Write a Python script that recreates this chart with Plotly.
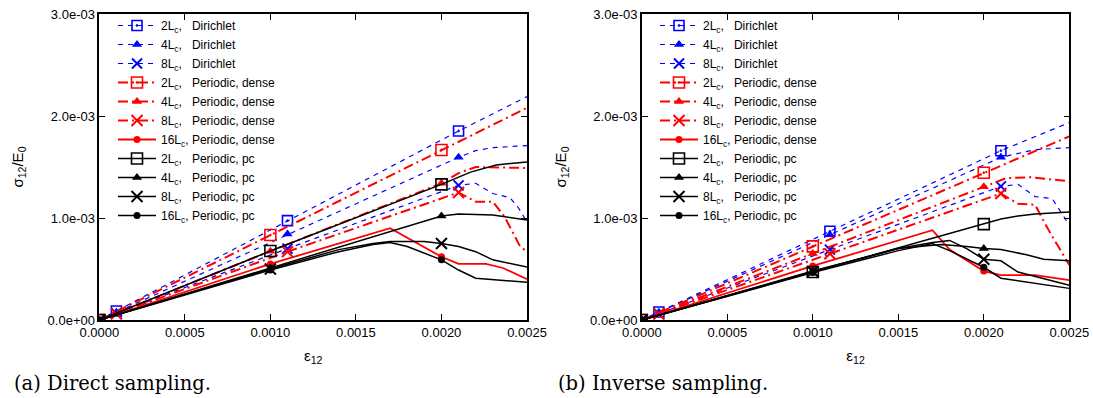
import numpy as np
import plotly.graph_objects as go

# ---------------- tick labels ----------------
X_TICKS = [0.0, 0.0005, 0.0010, 0.0015, 0.0020, 0.0025]
X_TICK_TEXT = ["0.0000", "0.0005", "0.0010", "0.0015", "0.0020", "0.0025"]
Y_TICKS = [0, 1, 2, 3]                      # sigma12/E0 in units of 1e-3
Y_TICK_TEXT = ["0.0e+00", "1.0e-03", "2.0e-03", "3.0e-03"]

MARK_A = [0.0, 0.0010, 0.0020]              # marker positions (set A)
MARK_B = [0.0001, 0.0011, 0.0021]           # marker positions (set B)

LABELS = [
    "2L<sub>c</sub>,\u00a0\u00a0\u00a0Dirichlet",
    "4L<sub>c</sub>,\u00a0\u00a0\u00a0Dirichlet",
    "8L<sub>c</sub>,\u00a0\u00a0\u00a0Dirichlet",
    "2L<sub>c</sub>,\u00a0\u00a0\u00a0Periodic, dense",
    "4L<sub>c</sub>,\u00a0\u00a0\u00a0Periodic, dense",
    "8L<sub>c</sub>,\u00a0\u00a0\u00a0Periodic, dense",
    "16L<sub>c</sub>, Periodic, dense",
    "2L<sub>c</sub>,\u00a0\u00a0\u00a0Periodic, pc",
    "4L<sub>c</sub>,\u00a0\u00a0\u00a0Periodic, pc",
    "8L<sub>c</sub>,\u00a0\u00a0\u00a0Periodic, pc",
    "16L<sub>c</sub>, Periodic, pc",
]

# ---------------- (a) Direct sampling ----------------
a_D2_x = [0, 0.0001, 0.0011, 0.0021, 0.0025]
a_D2_y = [0, 0.088, 0.974, 1.853, 2.19]
a_D4_x = [0, 0.0001, 0.0011, 0.0021, 0.0022, 0.0023, 0.0025]
a_D4_y = [0, 0.076, 0.843, 1.595, 1.66, 1.69, 1.71]
a_D8_x = [0, 0.0001, 0.0011, 0.0021, 0.0022, 0.0023, 0.0024, 0.00245, 0.0025]
a_D8_y = [0, 0.063, 0.70, 1.32, 1.34, 1.24, 1.20, 1.10, 0.96]
a_P2_x = [0, 0.0010, 0.0020, 0.0025]
a_P2_y = [0, 0.833, 1.667, 2.08]
a_P4_x = [0, 0.0010, 0.0020, 0.0021, 0.0022, 0.0025]
a_P4_y = [0, 0.675, 1.34, 1.44, 1.50, 1.49]
a_P8_x = [0, 0.0001, 0.0011, 0.0021, 0.0022, 0.0023, 0.00237, 0.00246, 0.0025]
a_P8_y = [0, 0.06, 0.67, 1.25, 1.16, 1.16, 1.01, 0.72, 0.67]
a_P16_x = [0, 0.0010, 0.0017, 0.0020, 0.0021, 0.00226, 0.00236, 0.0025]
a_P16_y = [0, 0.55, 0.90, 0.62, 0.55, 0.55, 0.51, 0.40]
a_C2_x = [0, 0.0010, 0.0020, 0.00217, 0.00232, 0.0025]
a_C2_y = [0, 0.676, 1.33, 1.45, 1.52, 1.55]
a_C4_x = [0, 0.0010, 0.0020, 0.0021, 0.0023, 0.0025]
a_C4_y = [0, 0.51, 1.02, 1.04, 1.03, 0.98]
a_C8_x = [0, 0.0010, 0.0014, 0.0016, 0.0017, 0.0019, 0.0020, 0.0021, 0.0022, 0.0023, 0.0025]
a_C8_y = [0, 0.50, 0.69, 0.75, 0.77, 0.77, 0.75, 0.72, 0.67, 0.59, 0.52]
a_C16_x = [0, 0.0010, 0.0014, 0.0016, 0.0017, 0.0018, 0.0020, 0.0021, 0.0022, 0.0025]
a_C16_y = [0, 0.49, 0.67, 0.74, 0.76, 0.72, 0.59, 0.49, 0.41, 0.37]

# ---------------- (b) Inverse sampling ----------------
b_D2_x = [0, 0.0001, 0.0011, 0.0021, 0.0025]
b_D2_y = [0, 0.079, 0.87, 1.66, 1.935]
b_D4_x = [0, 0.0001, 0.0011, 0.0021, 0.0023, 0.0025]
b_D4_y = [0, 0.076, 0.835, 1.595, 1.67, 1.69]
b_D8_x = [0, 0.0001, 0.0011, 0.0021, 0.0022, 0.0023, 0.0024, 0.0025]
b_D8_y = [0, 0.062, 0.69, 1.31, 1.33, 1.21, 1.19, 0.93]
b_P2_x = [0, 0.0010, 0.0020, 0.0025]
b_P2_y = [0, 0.722, 1.444, 1.80]
b_P4_x = [0, 0.0010, 0.0020, 0.00213, 0.00227, 0.0025]
b_P4_y = [0, 0.653, 1.307, 1.39, 1.40, 1.36]
b_P8_x = [0, 0.0001, 0.0011, 0.0021, 0.0022, 0.0023, 0.00235, 0.0024, 0.0025]
b_P8_y = [0, 0.059, 0.65, 1.24, 1.14, 1.13, 0.97, 0.82, 0.54]
b_P16_x = [0, 0.0010, 0.0017, 0.0018, 0.0020, 0.0021, 0.0023, 0.0025]
b_P16_y = [0, 0.53, 0.88, 0.69, 0.48, 0.44, 0.44, 0.39]
b_C2_x = [0, 0.0010, 0.0020, 0.0021, 0.0022, 0.0023, 0.0025]
b_C2_y = [0, 0.47, 0.94, 0.99, 1.02, 1.04, 1.06]
b_C4_x = [0, 0.0010, 0.0015, 0.00175, 0.0019, 0.0020, 0.0021, 0.00225, 0.00235, 0.0025]
b_C4_y = [0, 0.48, 0.70, 0.74, 0.72, 0.70, 0.69, 0.64, 0.595, 0.58]
b_C8_x = [0, 0.0010, 0.0015, 0.0017, 0.0018, 0.0019, 0.0020, 0.0021, 0.0022, 0.0025]
b_C8_y = [0, 0.475, 0.70, 0.76, 0.78, 0.70, 0.595, 0.58, 0.47, 0.34]
b_C16_x = [0, 0.0010, 0.0015, 0.0017, 0.0018, 0.0020, 0.0021, 0.0025]
b_C16_y = [0, 0.465, 0.68, 0.75, 0.68, 0.517, 0.41, 0.31]

BLUE, RED, BLACK = "#0000ff", "#ff0000", "#000000"
DASH_BLUE = "5px,5px"
DASH_RED = "10px,4px,2px,4px"

# style for each of the 11 series: colour, width, dash, symbol, size, marker set
STYLES = [
    (BLUE, 1.2, DASH_BLUE, "square-open-dot", 10, MARK_B),
    (BLUE, 1.2, DASH_BLUE, "triangle-up", 9, MARK_B),
    (BLUE, 1.2, DASH_BLUE, "x-thin-open", 10, MARK_B),
    (RED, 2.0, DASH_RED, "square-open-dot", 11, MARK_A),
    (RED, 2.0, DASH_RED, "triangle-up", 9, MARK_A),
    (RED, 2.0, DASH_RED, "x-thin-open", 11, MARK_B),
    (RED, 1.8, "solid", "circle", 7, MARK_A),
    (BLACK, 1.5, "solid", "square-open", 11, MARK_A),
    (BLACK, 1.5, "solid", "triangle-up", 9, MARK_A),
    (BLACK, 1.5, "solid", "x-thin-open", 11, MARK_A),
    (BLACK, 1.5, "solid", "circle", 7, MARK_A),
]

PANEL_A = [(a_D2_x, a_D2_y), (a_D4_x, a_D4_y), (a_D8_x, a_D8_y),
           (a_P2_x, a_P2_y), (a_P4_x, a_P4_y), (a_P8_x, a_P8_y), (a_P16_x, a_P16_y),
           (a_C2_x, a_C2_y), (a_C4_x, a_C4_y), (a_C8_x, a_C8_y), (a_C16_x, a_C16_y)]
PANEL_B = [(b_D2_x, b_D2_y), (b_D4_x, b_D4_y), (b_D8_x, b_D8_y),
           (b_P2_x, b_P2_y), (b_P4_x, b_P4_y), (b_P8_x, b_P8_y), (b_P16_x, b_P16_y),
           (b_C2_x, b_C2_y), (b_C4_x, b_C4_y), (b_C8_x, b_C8_y), (b_C16_x, b_C16_y)]

fig = go.Figure()


def marker_dict(color, symbol, size):
    m = dict(symbol=symbol, size=size, color=color)
    if symbol in ("x-thin-open",):
        m["line"] = dict(color=color, width=2)
    elif "open" in symbol:
        m["line"] = dict(color=color, width=1.6)
    else:
        m["line"] = dict(color=color, width=0)
    return m


for panel, xa, ya, leg in ((PANEL_A, "x", "y", "legend"), (PANEL_B, "x2", "y2", "legend2")):
    # legend entries
    for (color, w, dash, sym, sz, mk), name in zip(STYLES, LABELS):
        fig.add_trace(go.Scatter(x=[None], y=[None], mode="lines+markers", name=name,
                                 line=dict(color=color, width=w, dash=dash),
                                 marker=marker_dict(color, sym, sz),
                                 xaxis=xa, yaxis=ya, legend=leg, showlegend=True,
                                 hoverinfo="skip"))
    # curves and markers
    for (xs, ys), (color, w, dash, sym, sz, mk) in zip(panel, STYLES):
        fig.add_trace(go.Scatter(x=xs, y=ys, mode="lines",
                                 line=dict(color=color, width=w, dash=dash),
                                 xaxis=xa, yaxis=ya, showlegend=False))
        xs_a = np.array(xs, dtype=float)
        ys_a = np.array(ys, dtype=float)
        sel = np.zeros(len(xs_a), dtype=bool)
        for m in mk:
            sel |= np.isclose(xs_a, m, atol=1e-9)
        fig.add_trace(go.Scatter(x=xs_a[sel], y=ys_a[sel], mode="markers",
                                 marker=marker_dict(color, sym, sz),
                                 xaxis=xa, yaxis=ya, showlegend=False))

W, H = 1093, 398
yb, yt = (H - 320) / H, (H - 14) / H
tickfont = dict(family="Liberation Sans", size=13, color="black")
titlefont = dict(family="Liberation Sans", size=15, color="black")

common_x = dict(range=[0, 0.0025], tickvals=X_TICKS, ticktext=X_TICK_TEXT,
                ticks="inside", ticklen=6, tickwidth=1, tickcolor="black",
                showline=True, linecolor="black", linewidth=1.5, mirror="ticks",
                showgrid=False, zeroline=False, tickfont=tickfont, automargin=False,
                title=dict(text="ε<sub>12</sub>", font=titlefont, standoff=11))
common_y = dict(range=[0, 3], tickvals=Y_TICKS, ticktext=Y_TICK_TEXT,
                ticks="inside", ticklen=6, tickwidth=1, tickcolor="black",
                showline=True, linecolor="black", linewidth=1.5, mirror="ticks",
                showgrid=False, zeroline=False, tickfont=tickfont, automargin=False,
                title=dict(text="σ<sub>12</sub>/E<sub>0</sub>", font=titlefont, standoff=20))

legend_common = dict(xanchor="left", yanchor="top", bgcolor="rgba(0,0,0,0)",
                     font=dict(family="Liberation Sans", size=12, color="black"),
                     itemwidth=38, tracegroupgap=0, borderwidth=0)

capfont = dict(family="DejaVu Serif", size=19.5, color="black")

fig.update_layout(
    width=W, height=H, margin=dict(l=0, r=0, t=0, b=0),
    paper_bgcolor="white", plot_bgcolor="white",
    xaxis=dict(domain=[99.3 / W, 527 / W], anchor="y", **common_x),
    yaxis=dict(domain=[yb, yt], anchor="x", **common_y),
    xaxis2=dict(domain=[641.8 / W, 1069.3 / W], anchor="y2", **common_x),
    yaxis2=dict(domain=[yb, yt], anchor="x2", **common_y),
    legend=dict(x=113 / W, y=(H - 11) / H, **legend_common),
    legend2=dict(x=655 / W, y=(H - 11) / H, **legend_common),
    annotations=[
        dict(text="(a) Direct sampling.", x=12 / W, y=(H - 383) / H, xref="paper", yref="paper",
             xanchor="left", yanchor="middle", showarrow=False, font=capfont),
        dict(text="(b) Inverse sampling.", x=556 / W, y=(H - 383) / H, xref="paper", yref="paper",
             xanchor="left", yanchor="middle", showarrow=False, font=capfont),
    ],
)

fig.write_html("out.html", config={"displayModeBar": False},
               post_script="document.body.style.margin='0px';")
